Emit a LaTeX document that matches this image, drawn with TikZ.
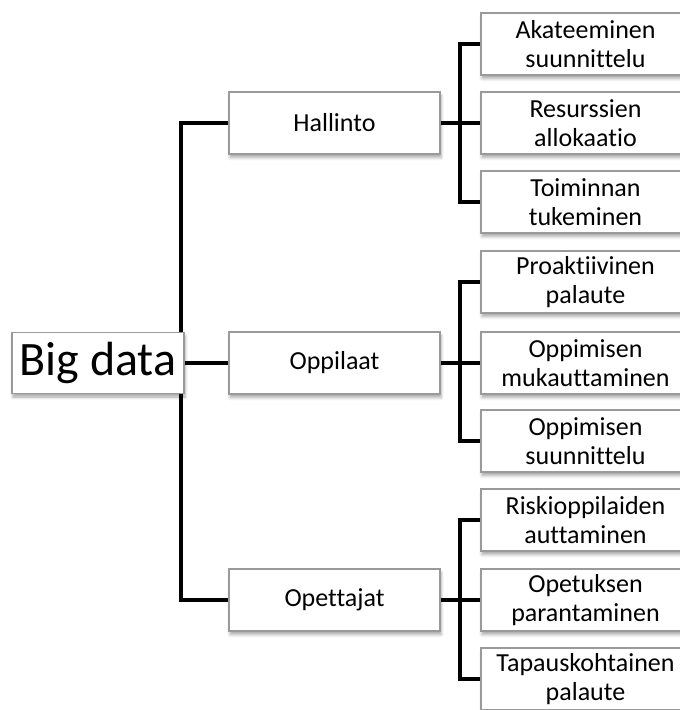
\documentclass[tikz,border=0pt]{standalone}
\usepackage{fontspec}
\setmainfont{Carlito}[Ligatures={NoCommon}]
\usetikzlibrary{shadows.blur}
\definecolor{boxgray}{HTML}{9A9A9A}
\begin{document}
\begin{tikzpicture}[x=1pt,y=-1pt,
  box/.style={draw=boxgray, line width=1.3pt, fill=white, inner sep=0pt, align=center,
    blur shadow={shadow xshift=1pt, shadow yshift=-3.5pt, shadow blur radius=3pt, shadow opacity=35},
    font=\fontsize{26}{28.5}\selectfont},
  midbox/.style={box, minimum width=211pt, minimum height=62pt},
  leafbox/.style={box, minimum width=209pt, minimum height=62pt},
  bigbox/.style={box, minimum width=172pt, minimum height=61pt, font=\fontsize{48}{52}\selectfont},
  conn/.style={line width=4.5pt, line join=miter, black}]
\useasboundingbox (0,0) rectangle (680,710);
\clip (0,0) rectangle (680,710);

% coordinates for connectors
\coordinate (tA) at (181,123);
\coordinate (tB) at (181,600);
\coordinate (bH) at (460,123);
\coordinate (bO) at (460,363);
\coordinate (bT) at (460,600);

% boxes
\path
  (334.5,123) node[midbox]  (hal) {Hallinto}
  (334.5,363) node[midbox]  (opp) {Oppilaat}
  (334.5,600) node[midbox]  (opt) {Opettajat}
  (585.5,44)  node[leafbox] (h1) {Akateeminen\\suunnittelu}
  (585.5,123) node[leafbox] (h2) {Resurssien\\allokaatio}
  (585.5,202) node[leafbox] (h3) {Toiminnan\\tukeminen}
  (585.5,282) node[leafbox] (o1) {Proaktiivinen\\palaute}
  (585.5,363) node[leafbox] (o2) {Oppimisen\\mukauttaminen}
  (585.5,441) node[leafbox] (o3) {Oppimisen\\suunnittelu}
  (585.5,520) node[leafbox] (t1) {Riskioppilaiden\\auttaminen}
  (585.5,600) node[leafbox] (t2) {Opetuksen\\parantaminen}
  (585.5,679) node[leafbox] (t3) {Tapauskohtainen\\palaute};

% trunk, drawn before the Big data box so the box covers it
\draw[conn] (hal.west) -- (tA) -- (tB) -- (opt.west);
\node[bigbox] (big) at (98,363) {Big data};
\draw[conn] (big.east) -- (opp.west);

% brackets
\draw[conn] (h1.west) -- (h1.west -| bH) -- (h3.west -| bH) -- (h3.west);
\draw[conn] (hal.east) -- (h2.west);
\draw[conn] (o1.west) -- (o1.west -| bO) -- (o3.west -| bO) -- (o3.west);
\draw[conn] (opp.east) -- (o2.west);
\draw[conn] (t1.west) -- (t1.west -| bT) -- (t3.west -| bT) -- (t3.west);
\draw[conn] (opt.east) -- (t2.west);
\end{tikzpicture}
\end{document}
